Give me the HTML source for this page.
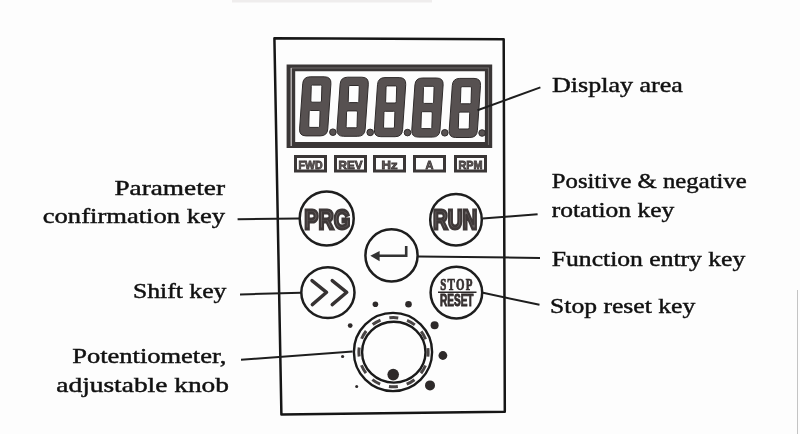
<!DOCTYPE html>
<html><head><meta charset="utf-8">
<style>
html,body{margin:0;padding:0;background:#fdfdfd;width:800px;height:434px;overflow:hidden}
svg{display:block;filter:blur(0.35px)}
.t{font-family:"Liberation Serif",serif;font-weight:normal;font-size:21.5px;fill:#111;stroke:#111;stroke-width:0.45}
.k{font-family:"Liberation Sans",sans-serif;font-weight:bold;fill:#666060;stroke:#3e3838;stroke-width:0.8}
</style></head>
<body>
<svg width="800" height="434" viewBox="0 0 800 434">
<defs>
<path id="d8" fill-rule="evenodd" d="M5.80,0.00 L20.00,0.00 Q27.00,0.00 26.52,6.98 L23.38,52.12 Q22.90,59.10 15.90,59.10 L1.70,59.10 Q-5.30,59.10 -4.82,52.12 L-1.68,6.98 Q-1.20,0.00 5.80,0.00 Z M6.86,9.50 L6.44,24.20 Q6.40,25.40 7.60,25.40 L15.80,25.40 Q17.00,25.40 17.04,24.20 L17.46,9.50 Q17.50,8.30 16.30,8.30 L8.10,8.30 Q6.90,8.30 6.86,9.50 Z M4.76,34.90 L4.34,49.40 Q4.30,50.60 5.50,50.60 L14.00,50.60 Q15.20,50.60 15.24,49.40 L15.66,34.90 Q15.70,33.70 14.50,33.70 L6.00,33.70 Q4.80,33.70 4.76,34.90 Z"/>
</defs>

<line x1="797.5" y1="290" x2="797.5" y2="434" stroke="#c4c4c4" stroke-width="1"/>
<rect x="232" y="0" width="200" height="2.5" fill="#efeded"/>
<!-- outer panel -->
<polygon points="274.4,38.3 503.7,39.2 504.8,411.8 281.4,414.5" fill="none" stroke="#161616" stroke-width="2.5" stroke-linejoin="round"/>

<!-- display -->
<path fill-rule="evenodd" fill="#3a3636" d="M286.6,64.5 H492.2 V147.9 H286.6 Z M295.2,71.3 V142 H484.9 V71.3 Z"/>
<path d="M291.2,146 V68 H488.5 V145" fill="none" stroke="#6e6a6a" stroke-width="1.1"/>
<line x1="291.2" y1="68" x2="291.2" y2="146" stroke="#c8c4c4" stroke-width="1.1"/>
<g fill="#575151" stroke="#2e2a2a" stroke-width="1">
<use href="#d8" transform="translate(304.4,76.8)"/>
<use href="#d8" transform="translate(341.8,77.2)"/>
<use href="#d8" transform="translate(379.2,77.6)"/>
<use href="#d8" transform="translate(416.6,78.0)"/>
<use href="#d8" transform="translate(454.0,78.4)"/>
<circle cx="332.9" cy="132.2" r="3.3"/>
<circle cx="370.2" cy="132.4" r="3.3"/>
<circle cx="407.5" cy="132.6" r="3.3"/>
<circle cx="444.8" cy="132.8" r="3.3"/>
<circle cx="482.1" cy="133" r="3.3"/>
</g>

<!-- indicator labels -->
<g fill="none" stroke="#3a3636" stroke-width="3">
<rect x="295.5" y="156.5" width="30" height="14.5"/>
<rect x="335.5" y="156.5" width="30" height="14.5"/>
<rect x="374.5" y="156.5" width="30" height="14.5"/>
<rect x="414.5" y="156.5" width="30" height="14.5"/>
<rect x="455.5" y="156.5" width="30" height="14.5"/>
</g>
<g class="k" style="font-size:11px" text-anchor="middle">
<text x="310.5" y="168.5" textLength="24" lengthAdjust="spacingAndGlyphs">FWD</text>
<text x="350.5" y="168.5" textLength="24" lengthAdjust="spacingAndGlyphs">REV</text>
<text x="389.5" y="168.5" textLength="16" lengthAdjust="spacingAndGlyphs">Hz</text>
<text x="429.5" y="168.5">A</text>
<text x="470.5" y="168.5" textLength="24" lengthAdjust="spacingAndGlyphs">RPM</text>
</g>

<!-- keys -->
<g fill="none" stroke="#1e1e1e" stroke-width="2.5">
<circle cx="326.7" cy="218.5" r="27"/>
<circle cx="456" cy="219.7" r="25.8"/>
<circle cx="391.5" cy="255.4" r="26.1"/>
<ellipse cx="327.9" cy="292.6" rx="26.6" ry="25.4"/>
<circle cx="456.4" cy="292.6" r="25.8"/>
</g>
<g class="k" style="font-size:28.5px;stroke-width:2.9">
<text x="304.3" y="228.7" textLength="45.9" lengthAdjust="spacingAndGlyphs">PRG</text>
<text x="432.9" y="228.7" textLength="44.3" lengthAdjust="spacingAndGlyphs">RUN</text>
</g>
<g class="k" style="font-size:16px;stroke-width:0.9;fill:#3a3434;stroke:#2a2424">
<text x="440.2" y="290.2" textLength="33.6" lengthAdjust="spacingAndGlyphs" style="font-family:'Liberation Serif',serif;font-size:16.5px;stroke-width:0.7;letter-spacing:2px">STOP</text>
<text x="440" y="305.6" textLength="33.5" lengthAdjust="spacingAndGlyphs">RESET</text>
</g>
<line x1="438" y1="292.3" x2="476.5" y2="292.3" stroke="#2a2626" stroke-width="1.6"/>

<!-- enter arrow -->
<g stroke="#333" stroke-width="2.6" fill="none" stroke-linejoin="miter">
<polyline points="406.2,246 406.2,255.7 376,255.7"/>
</g>
<polygon points="370.3,255.7 379.6,251 379.6,261.2" fill="#333"/>

<!-- chevrons -->
<g stroke="#363232" stroke-width="3.4" fill="none" stroke-linecap="round" stroke-linejoin="round">
<polyline points="312,280.6 326.6,292.3 312.3,304.6"/>
<polyline points="332.2,280.6 346.8,292.3 332.2,304.6"/>
</g>

<!-- knob -->
<circle cx="393" cy="352" r="39.1" fill="none" stroke="#1a1a1a" stroke-width="2.4"/>
<ellipse cx="393.8" cy="352.2" rx="31.7" ry="30.4" fill="none" stroke="#1a1a1a" stroke-width="2.4"/>
<circle cx="393.5" cy="352.2" r="34.6" fill="none" stroke="#484444" stroke-width="3" stroke-dasharray="9 9.12" stroke-dashoffset="4.5"/>
<g fill="#2e2a2a">
<circle cx="375.4" cy="304.2" r="2.8"/>
<circle cx="408.5" cy="304.2" r="3.3"/>
<circle cx="350.2" cy="325.6" r="2.4"/>
<circle cx="434.6" cy="325.2" r="4"/>
<circle cx="442.9" cy="355.5" r="4.4"/>
<circle cx="342.6" cy="356.5" r="1.6"/>
<circle cx="393.2" cy="374.6" r="5.8"/>
<circle cx="430" cy="385.4" r="5"/>
<circle cx="356.7" cy="386.6" r="1.5"/>
</g>

<!-- leader lines -->
<g stroke="#1e1e1e" stroke-width="2" fill="none">
<line x1="477.5" y1="110.3" x2="540.4" y2="87.4"/>
<line x1="237.6" y1="219.2" x2="299" y2="218.4"/>
<line x1="482.5" y1="218.6" x2="537.6" y2="214.2"/>
<line x1="418" y1="256.5" x2="540" y2="257.9"/>
<line x1="240" y1="294.4" x2="301" y2="292.8"/>
<line x1="483" y1="292.8" x2="539.5" y2="304.75"/>
<line x1="241" y1="359.8" x2="352.6" y2="351.5"/>
</g>

<!-- labels -->
<g class="t">
<text x="552" y="92.2" textLength="130.8" lengthAdjust="spacingAndGlyphs">Display area</text>
<text x="114.4" y="194.5" textLength="110.6" lengthAdjust="spacingAndGlyphs">Parameter</text>
<text x="42.8" y="223.3" textLength="182.2" lengthAdjust="spacingAndGlyphs">confirmation key</text>
<text x="551.8" y="187.8" textLength="194.9" lengthAdjust="spacingAndGlyphs">Positive &amp; negative</text>
<text x="551.8" y="216.7" textLength="122.5" lengthAdjust="spacingAndGlyphs">rotation key</text>
<text x="551.8" y="266" textLength="193.5" lengthAdjust="spacingAndGlyphs">Function entry key</text>
<text x="133" y="297.7" textLength="93.4" lengthAdjust="spacingAndGlyphs">Shift key</text>
<text x="550" y="312.6" textLength="145.3" lengthAdjust="spacingAndGlyphs">Stop reset key</text>
<text x="72.2" y="363" textLength="154.2" lengthAdjust="spacingAndGlyphs">Potentiometer,</text>
<text x="56.3" y="391.5" textLength="172.7" lengthAdjust="spacingAndGlyphs">adjustable knob</text>
</g>
</svg>
</body></html>
